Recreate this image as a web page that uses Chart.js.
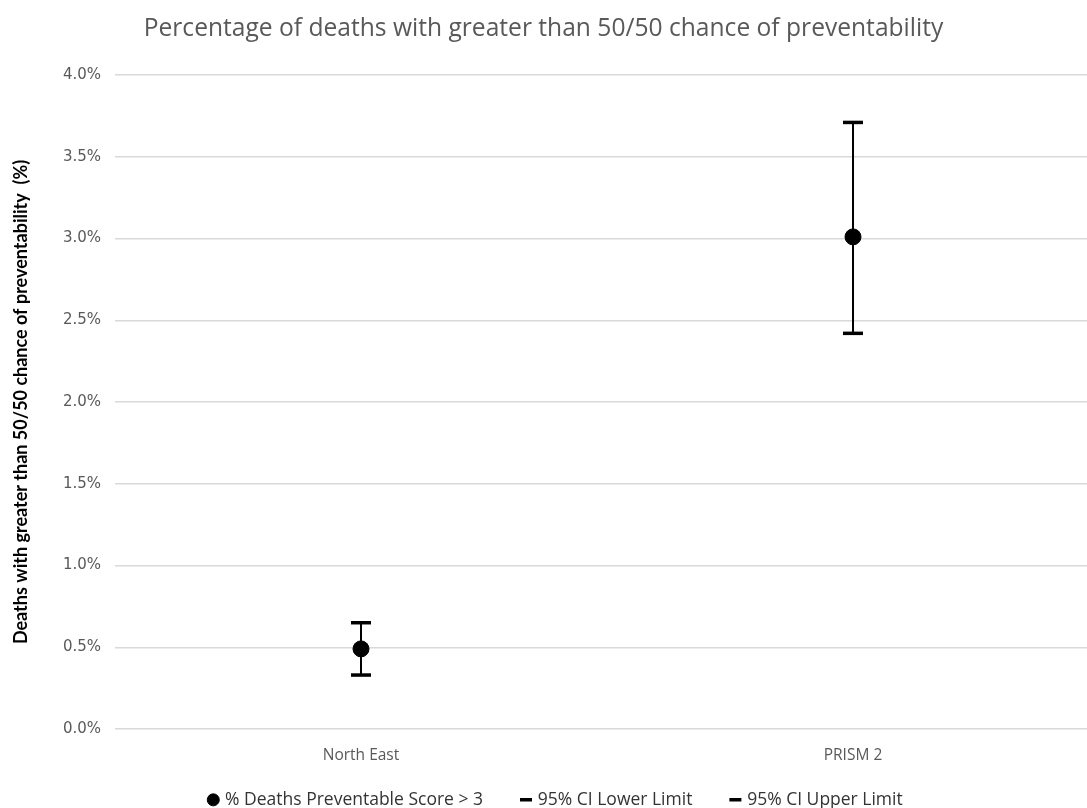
<!DOCTYPE html>
<html>
<head>
<meta charset="utf-8">
<script src="https://cdn.jsdelivr.net/npm/chart.js@4/dist/chart.umd.min.js"></script>
<style>
  html, body { margin: 0; padding: 0; background: #ffffff; }
  #wrap { width: 1087px; height: 808px; position: relative; }
</style>
</head>
<body>
<div id="wrap"><canvas id="c"></canvas></div>
<script>
const categories = ["North East", "PRISM 2"];
const pctPreventable = [0.49, 3.01];
const ciLower = [0.33, 2.42];
const ciUpper = [0.65, 3.71];
const yTicks = [0, 0.5, 1, 1.5, 2, 2.5, 3, 3.5, 4];

const seriesNames = ["% Deaths Preventable Score > 3", "95% CI Lower Limit", "95% CI Upper Limit"];

const toPts = arr => arr.map((v, i) => ({ x: i, y: v }));
const errSegments = [];
categories.forEach((c, i) => {
  errSegments.push({ x: i, y: ciLower[i] });
  errSegments.push({ x: i, y: ciUpper[i] });
  errSegments.push({ x: i, y: null });
});

// nudge the legend box into place after Chart.js has laid it out
const legendShift = {
  id: 'legendShift',
  afterLayout(chart) {
    const l = chart.legend;
    l.left += 13; l.right += 13;
    l.top -= 30.5; l.bottom -= 30.5;
  }
};

new Chart(document.getElementById('c'), {
  type: 'line',
  plugins: [legendShift],
  data: {
    datasets: [
      {
        label: 'err',
        data: errSegments,
        borderColor: '#000000',
        borderWidth: 2,
        pointRadius: 0,
        spanGaps: false,
        order: 3
      },
      {
        label: seriesNames[0],
        data: toPts(pctPreventable),
        showLine: false,
        pointStyle: 'circle',
        pointRadius: 8,
        pointBorderWidth: 1,
        borderWidth: 1,
        pointBackgroundColor: '#000000',
        pointBorderColor: '#000000',
        backgroundColor: '#000000',
        borderColor: '#000000',
        order: 0
      },
      {
        label: seriesNames[1],
        data: toPts(ciLower),
        showLine: false,
        pointStyle: 'line',
        pointRadius: 10,
        pointBorderWidth: 3.5,
        borderWidth: 3.5,
        pointBorderColor: '#000000',
        borderColor: '#000000',
        order: 1
      },
      {
        label: seriesNames[2],
        data: toPts(ciUpper),
        showLine: false,
        pointStyle: 'line',
        pointRadius: 10,
        pointBorderWidth: 3.5,
        borderWidth: 3.5,
        pointBorderColor: '#000000',
        borderColor: '#000000',
        order: 2
      }
    ]
  },
  options: {
    responsive: true,
    maintainAspectRatio: false,
    animation: false,
    events: [],
    layout: { autoPadding: false, padding: { left: 0, right: 0, top: 0, bottom: -41.1 } },
    plugins: {
      tooltip: { enabled: false },
      title: {
        display: true,
        text: 'Percentage of deaths with greater than 50/50 chance of preventability',
        color: '#595959',
        font: { family: '"Open Sans", Lato, sans-serif', size: 24.6, weight: 'normal' },
        padding: { top: 14.5, bottom: 31 }
      },
      legend: {
        position: 'bottom',
        labels: {
          filter: item => item.text !== 'err',
          usePointStyle: true,
          boxWidth: 6,
          boxHeight: 8.5,
          padding: 40,
          color: '#333333',
          font: { family: '"Open Sans", Lato, sans-serif', size: 17.5 }
        }
      }
    },
    scales: {
      x: {
        type: 'linear',
        min: -0.5,
        max: 1.4756,
        afterBuildTicks: axis => { axis.ticks = categories.map((c, i) => ({ value: i })); },
        afterFit: axis => { axis.paddingLeft = 0; axis.paddingRight = 0; },
        ticks: {
          callback: v => categories[v],
          color: '#595959',
          font: { family: '"Open Sans", Lato, sans-serif', size: 15.5 },
          padding: 17,
          maxRotation: 0
        },
        grid: { display: false, drawTicks: false },
        border: { display: false }
      },
      y: {
        min: 0,
        max: 4,
        afterBuildTicks: axis => { axis.ticks = yTicks.map(v => ({ value: v })); },
        ticks: {
          callback: v => v.toFixed(1) + '%',
          color: '#595959',
          font: { family: '"DejaVu Sans", Verdana, sans-serif', size: 15 },
          padding: 14
        },
        grid: { color: '#d9d9d9', lineWidth: 1.5, drawTicks: false },
        border: { display: false },
        title: {
          display: true,
          text: 'Deaths with greater than 50/50 chance of preventability  (%)',
          color: '#000000',
          font: { family: 'Lato, "Open Sans", sans-serif', size: 18, weight: 'bold' },
          padding: { top: 10, bottom: 17.3 }
        }
      }
    }
  }
});
</script>
</body>
</html>
